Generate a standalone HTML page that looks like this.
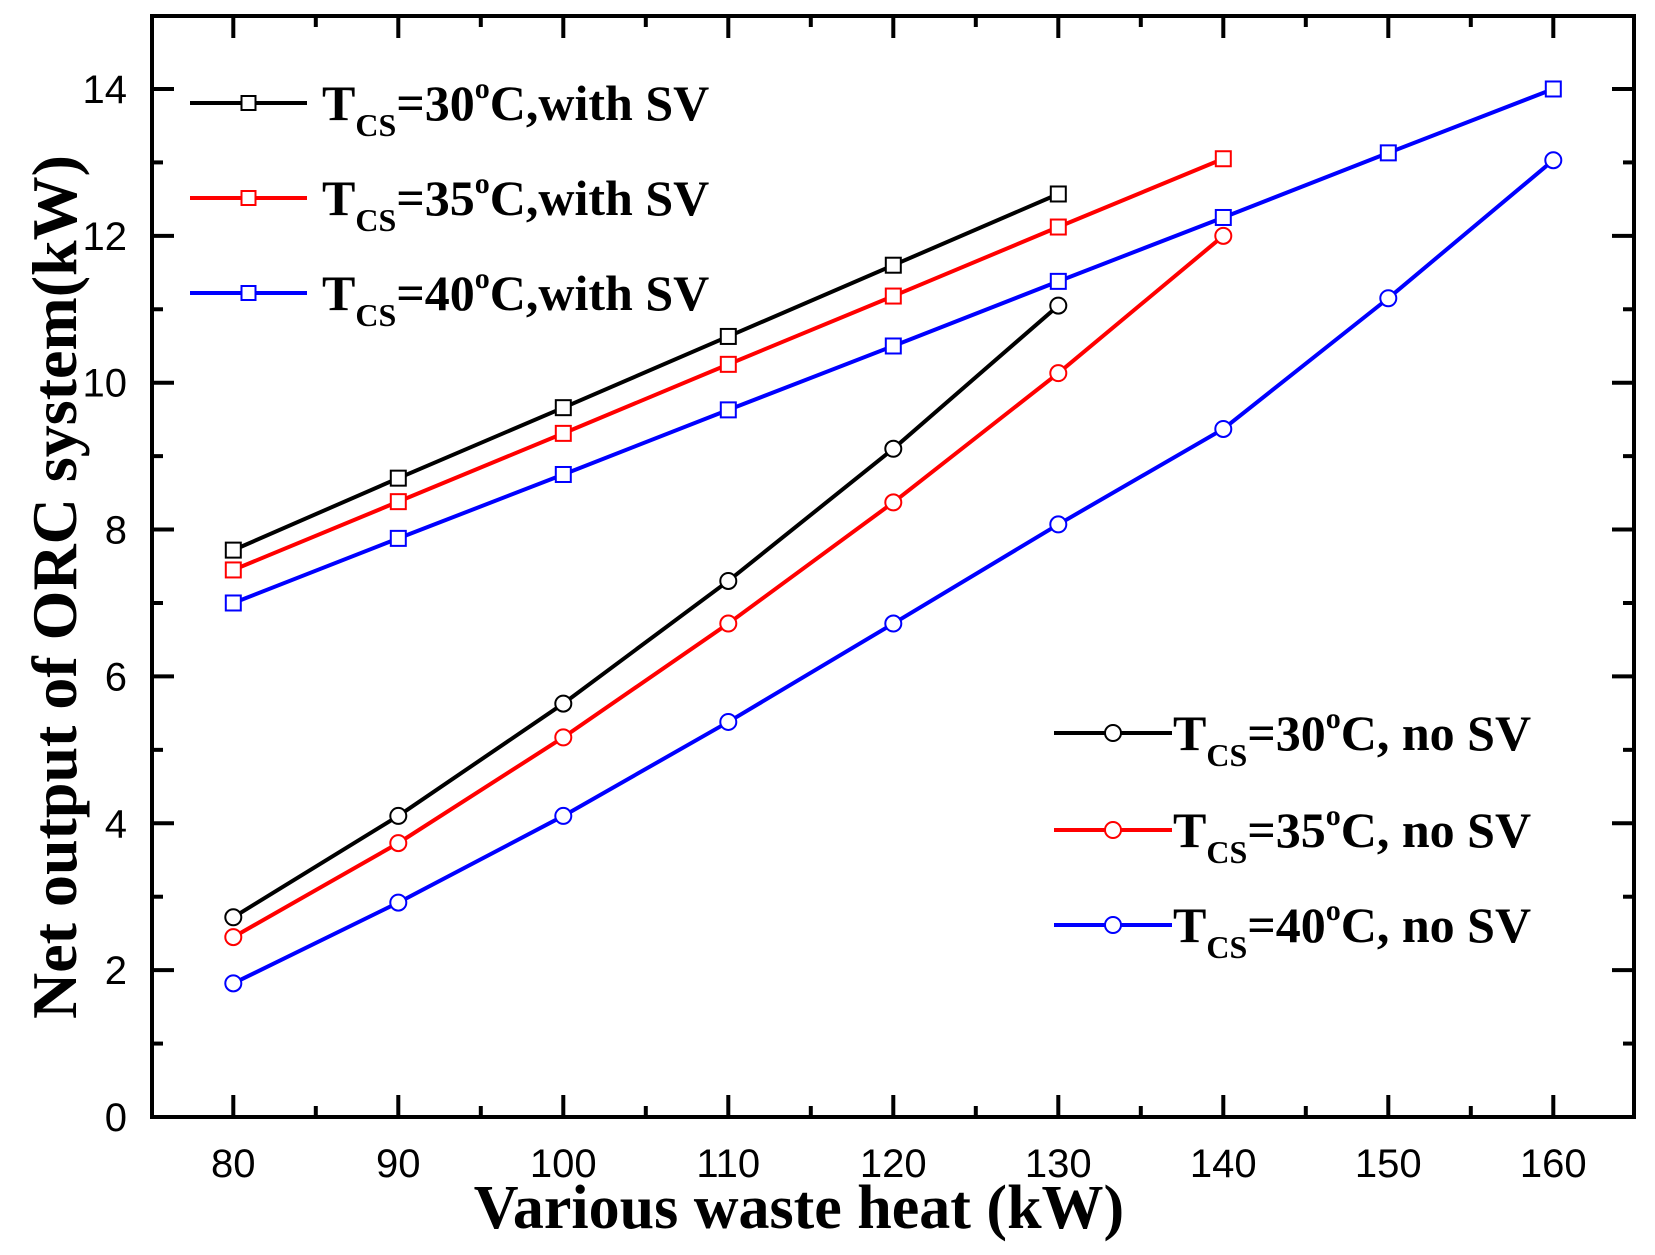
<!DOCTYPE html>
<html><head><meta charset="utf-8"><style>
html,body{margin:0;padding:0;background:#fff;}
svg{display:block}
</style></head><body>
<svg id="chart" width="1655" height="1255" viewBox="0 0 1655 1255" xmlns="http://www.w3.org/2000/svg"></svg>
<script>
const xCats = [80,90,100,110,120,130,140,150,160];
const xTicks = [80,90,100,110,120,130,140,150,160];
const yTicks = [0,2,4,6,8,10,12,14];
const s30sv = [7.72,8.7,9.66,10.63,11.6,12.57];
const s35sv = [7.45,8.38,9.31,10.25,11.18,12.12,13.05];
const s40sv = [7.0,7.88,8.75,9.63,10.5,11.38,12.25,13.13,14.0];
const s30no = [2.72,4.1,5.63,7.3,9.1,11.05];
const s35no = [2.45,3.73,5.17,6.72,8.37,10.13,12.0];
const s40no = [1.82,2.92,4.1,5.38,6.72,8.07,9.37,11.15,13.03];

const svg = document.getElementById('chart');
const NS = 'http://www.w3.org/2000/svg';
const L=152,R=1634,T=16,B=1117;
const xs = v => 233.3 + (v-80)*16.5;
const ys = v => 1117 - v*73.43;
function el(tag, attrs, parent){const e=document.createElementNS(NS,tag);for(const k in attrs)e.setAttribute(k,attrs[k]);(parent||svg).appendChild(e);return e;}

const frame = el('rect',{x:L,y:T,width:R-L,height:B-T,fill:'none',stroke:'#000','stroke-width':4});



for(let v=75; v<=165; v+=5){
  const x=xs(v); if(x<=L+2||x>=R-2) continue;
  const major = v%10===0; const len = major?22:11;
  const t1=el('line',{x1:x,y1:B,x2:x,y2:B-len,stroke:'#000','stroke-width':4});
  
  
  const t2=el('line',{x1:x,y1:T,x2:x,y2:T+len,stroke:'#000','stroke-width':4});
  
  
}
xTicks.forEach(v=>{
  const t=el('text',{x:xs(v),y:1177,'text-anchor':'middle','font-family':'Liberation Sans, sans-serif','font-size':40});
  t.textContent=v;
  
  
});
for(let v=0; v<=14.9; v+=1){
  const y=ys(v); if(y>=B-2) continue;
  const major = v%2===0; const len = major?22:11;
  const t1=el('line',{x1:L,y1:y,x2:L+len,y2:y,stroke:'#000','stroke-width':4});
  
  
  const t2=el('line',{x1:R,y1:y,x2:R-len,y2:y,stroke:'#000','stroke-width':4});
  
  
}
yTicks.forEach(v=>{
  const t=el('text',{x:127,y:ys(v)+14,'text-anchor':'end','font-family':'Liberation Sans, sans-serif','font-size':40});
  t.textContent=v;
  
  
});
const xt=el('text',{x:799,y:1228,'text-anchor':'middle','font-family':'Liberation Serif, serif','font-size':62,'font-weight':'bold'});
xt.textContent='Various waste heat (kW)';


const yt=el('text',{x:0,y:0,'text-anchor':'middle','font-family':'Liberation Serif, serif','font-size':64,'font-weight':'bold',transform:'translate(76,587) rotate(-90)'});
yt.textContent='Net output of ORC system(kW)';



function series(vals,color,marker,name){
  const g=el('g',{});
  
  
  const pts=vals.map((v,i)=>xs(xCats[i])+','+ys(v)).join(' ');
  const pl=el('polyline',{points:pts,fill:'none',stroke:color,'stroke-width':4},g);
  
  
  vals.forEach((v,i)=>{
    const x=xs(xCats[i]),y=ys(v);
    let m;
    if(marker==='sq') m=el('rect',{x:x-7.5,y:y-7.5,width:15,height:15,fill:'#fff',stroke:color,'stroke-width':2},g);
    else m=el('circle',{cx:x,cy:y,r:8,fill:'#fff',stroke:color,'stroke-width':2},g);
    
    
  });
}
series(s40no,'#0000ff','ci','series-40c-no-sv');
series(s35no,'#ff0000','ci','series-35c-no-sv');
series(s30no,'#000000','ci','series-30c-no-sv');
series(s40sv,'#0000ff','sq','series-40c-with-sv');
series(s35sv,'#ff0000','sq','series-35c-with-sv');
series(s30sv,'#000000','sq','series-30c-with-sv');

function legend(x1,x2,y,color,marker,label,tx,name){
  const g=el('g',{});
  
  
  el('line',{x1:x1,y1:y,x2:x2,y2:y,stroke:color,'stroke-width':4},g);
  const mx=(x1+x2)/2;
  if(marker==='sq') el('rect',{x:mx-7,y:y-7,width:14,height:14,fill:'#fff',stroke:color,'stroke-width':2},g);
  else el('circle',{cx:mx,cy:y,r:8,fill:'#fff',stroke:color,'stroke-width':2},g);
  const t=el('text',{x:tx,y:y+17,'font-family':'Liberation Serif, serif','font-size':50,'font-weight':'bold'},g);
  t.innerHTML='T<tspan font-size="32" dy="16">CS</tspan><tspan dy="-16">=</tspan>'+label[0]+'<tspan font-size="30" dy="-22">o</tspan><tspan dy="22">'+label[1]+'</tspan>';
}
legend(190,307,103,'#000','sq',['30','C,with SV'],322,'legend-30c-with-sv');
legend(190,307,198,'#ff0000','sq',['35','C,with SV'],322,'legend-35c-with-sv');
legend(190,307,293,'#0000ff','sq',['40','C,with SV'],322,'legend-40c-with-sv');
legend(1054,1172,733,'#000','ci',['30','C, no SV'],1173,'legend-30c-no-sv');
legend(1054,1172,830,'#ff0000','ci',['35','C, no SV'],1173,'legend-35c-no-sv');
legend(1054,1172,925,'#0000ff','ci',['40','C, no SV'],1173,'legend-40c-no-sv');
</script>
</body></html>
